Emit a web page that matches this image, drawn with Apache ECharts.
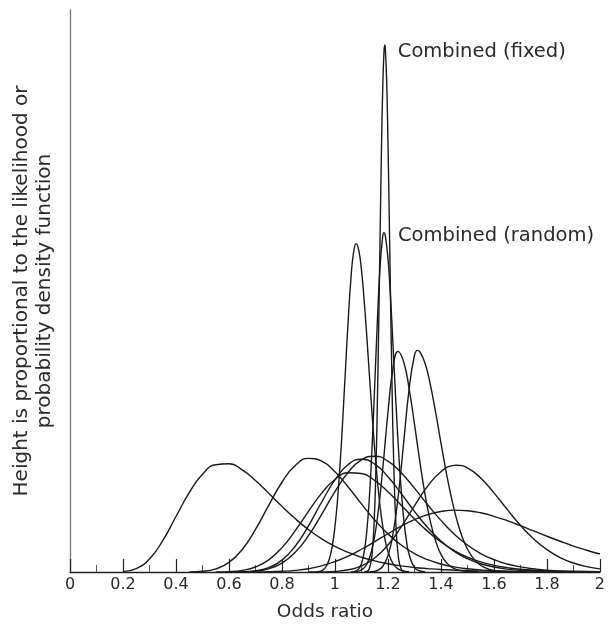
<!DOCTYPE html>
<html>
<head>
<meta charset="utf-8">
<script src="https://cdn.jsdelivr.net/npm/echarts@6/dist/echarts.min.js"></script>
<style>html,body{margin:0;padding:0;background:#fff;}#c{width:608px;height:627px;}</style>
</head>
<body>
<div id="c"></div>
<script>
// Odds-ratio axis ticks
const xTickMin = 0, xTickMax = 2, xTickStep = 0.2;
const xAxisTitle = 'Odds ratio';
const yAxisTitle = 'Height is proportional to the likelihood or\nprobability density function';
const labelFixed = 'Combined (fixed)';
const labelRandom = 'Combined (random)';

// Curves: [odds ratio, height]
const studyA = [[0.2,0.4],[0.25,3.4],[0.3,13.1],[0.35,31.4],[0.4,55.6],[0.45,79.6],[0.5,97.9],[0.55,107.5],[0.6,108.4],[0.65,102.3],[0.7,91.7],[0.75,79],[0.8,65.8],[0.85,53.5],[0.9,42.5],[0.95,33.2],[1,25.6],[1.05,19.6],[1.1,14.8],[1.15,11.1],[1.2,8.3],[1.25,6.1],[1.3,4.5],[1.35,3.4],[1.4,2.5],[1.5,1.3],[1.6,0.7],[1.7,0.3]];
const studyB = [[0.45,0.1],[0.5,0.7],[0.55,3.1],[0.6,9.6],[0.65,22.6],[0.7,42.6],[0.75,66.8],[0.8,89.9],[0.85,106.7],[0.9,113.8],[0.95,111],[1,100.4],[1.05,85.1],[1.1,68.2],[1.15,52.1],[1.2,38.2],[1.25,27],[1.3,18.5],[1.35,12.3],[1.4,8],[1.45,5.1],[1.5,3.2],[1.55,2],[1.6,1.2],[1.7,0.4],[1.8,0.1]];
const studyC = [[0.6,0],[0.65,0.2],[0.7,1.2],[0.75,4.3],[0.8,11.9],[0.85,25.8],[0.9,46.2],[0.95,70.1],[1,92.3],[1.05,107.7],[1.1,113],[1.15,108.1],[1.2,95.5],[1.25,78.6],[1.3,60.8],[1.35,44.5],[1.4,31],[1.45,20.7],[1.5,13.3],[1.55,8.3],[1.6,5],[1.65,2.9],[1.7,1.7],[1.8,0.5],[1.9,0.1]];
const studyD = [[0.65,0.2],[0.7,0.9],[0.75,3.2],[0.8,8.9],[0.85,19.7],[0.9,36.4],[0.95,57.8],[1,80.4],[1.05,99.9],[1.1,112.3],[1.15,116],[1.2,111],[1.25,99.5],[1.3,84],[1.35,67.4],[1.4,51.7],[1.45,38],[1.5,27],[1.55,18.5],[1.6,12.4],[1.65,8],[1.7,5.1],[1.75,3.2],[1.8,1.9],[1.9,0.7],[2,0.2]];
const studyE = [[0.55,0.1],[0.6,0.4],[0.65,1.6],[0.7,5],[0.75,12.2],[0.8,24.4],[0.85,41.4],[0.9,60.7],[0.95,79],[1,92.6],[1.05,99.4],[1.1,98.7],[1.15,91.7],[1.2,80.3],[1.25,66.9],[1.3,53.2],[1.35,40.7],[1.4,30],[1.45,21.5],[1.5,14.9],[1.55,10.1],[1.6,6.7],[1.65,4.4],[1.7,2.8],[1.8,1.1],[1.9,0.4],[2,0.1]];
const studyF = [[0.93,0.1],[0.94,0.5],[0.95,1.4],[0.96,3.2],[0.97,7],[0.98,14.1],[0.99,26.2],[1,45.6],[1.01,73.4],[1.02,110.5],[1.03,155.6],[1.04,204.4],[1.05,252.4],[1.06,292.8],[1.07,319.7],[1.08,329],[1.09,322.1],[1.1,302.6],[1.11,272.7],[1.12,236.7],[1.13,197.4],[1.14,158.7],[1.15,122.7],[1.16,92],[1.17,66.4],[1.18,46.4],[1.19,31.3],[1.2,20.6],[1.22,8],[1.24,2.8],[1.26,0.9],[1.28,0.2]];
const studyG = [[1.06,0],[1.08,0.4],[1.1,2.1],[1.12,7.8],[1.14,22.9],[1.16,53.8],[1.18,102.5],[1.2,159.8],[1.22,205.8],[1.238,221],[1.26,209.9],[1.28,183.5],[1.3,148.4],[1.32,111.4],[1.34,77.7],[1.36,50.7],[1.38,31],[1.4,17.7],[1.42,9.6],[1.44,4.9],[1.46,2.4],[1.5,0.5],[1.54,0]];
const studyH = [[1.12,0],[1.14,0.3],[1.16,1.5],[1.18,5.5],[1.2,16.3],[1.22,39.6],[1.24,78.9],[1.26,131.3],[1.28,183.5],[1.3,216.9],[1.311,222],[1.32,220.7],[1.34,209.1],[1.36,187.6],[1.38,159.8],[1.4,129.4],[1.42,99.9],[1.44,73.9],[1.46,52.2],[1.48,35.4],[1.5,23],[1.52,14.4],[1.54,8.7],[1.56,5.1],[1.58,2.9],[1.6,1.6],[1.65,0.3],[1.7,0]];
const studyI = [[0.9,0],[0.95,0.1],[1,0.6],[1.05,2.2],[1.1,6.1],[1.15,14],[1.2,27.1],[1.25,45.2],[1.3,66.2],[1.35,86],[1.4,100.5],[1.45,106.8],[1.46,107],[1.5,104.3],[1.55,94.1],[1.6,79.3],[1.65,62.7],[1.7,46.8],[1.75,33.1],[1.8,22.4],[1.85,14.4],[1.9,9],[1.95,5.4],[2,3.1]];
const studyJ = [[0.7,0],[0.75,0.2],[0.8,0.7],[0.85,1.6],[0.9,3.3],[0.95,6.2],[1,10.4],[1.05,15.9],[1.1,22.8],[1.15,30.4],[1.2,38.3],[1.25,45.9],[1.3,52.4],[1.35,57.4],[1.4,60.6],[1.45,62],[1.5,61.4],[1.55,59.3],[1.6,55.8],[1.65,51.4],[1.7,46.4],[1.75,41.1],[1.8,35.8],[1.85,30.8],[1.9,26],[1.95,21.8],[2,18]];
const combinedRandom = [[1.07,0.2],[1.08,1.1],[1.09,3.2],[1.1,8.4],[1.11,19.6],[1.12,40.5],[1.13,75],[1.14,124.6],[1.15,186.6],[1.16,250.6],[1.17,304.8],[1.18,335.8],[1.185,340],[1.19,337],[1.2,314.5],[1.21,273.9],[1.22,222.6],[1.23,170.2],[1.24,121.9],[1.25,82.1],[1.26,52],[1.27,31],[1.28,17.4],[1.3,4.7],[1.32,1],[1.34,0.2]];
const combinedFixed = [[1.11,0],[1.12,0.5],[1.13,3.5],[1.14,17.4],[1.15,63.9],[1.155,107.7],[1.16,168.5],[1.165,245.2],[1.17,330.7],[1.175,414.5],[1.18,481.4],[1.185,521.1],[1.188,528],[1.19,524.9],[1.195,493.1],[1.2,432.3],[1.205,353.2],[1.21,270.2],[1.215,192.9],[1.22,128.1],[1.23,47.5],[1.24,13.5],[1.25,3],[1.26,0.5],[1.27,0]];

const studies = [studyA, studyB, studyC, studyD, studyE, studyF, studyG, studyH, studyI, studyJ];

const FONT = 'DejaVu Sans';
const lineColor = '#1a1a1a';
function curve(data, extra) {
  return Object.assign({
    type: 'line', data: data, showSymbol: false, smooth: 0.5,
    lineStyle: { color: lineColor, width: 1.4 }, silent: true
  }, extra || {});
}
function peakLabel(text, offset) {
  return {
    symbol: 'circle', symbolSize: 0, silent: true,
    data: [{ type: 'max' }],
    label: { show: true, position: 'right', distance: 0, offset: offset, formatter: text,
      fontFamily: FONT, fontSize: 19.5, color: '#2a2a2a' }
  };
}

const series = studies.map(d => curve(d));
series.push(curve(combinedRandom, { markPoint: peakLabel(labelRandom, [14, 3]) }));
series.push(curve(combinedFixed, { markPoint: peakLabel(labelFixed, [13, 7]) }));

const chart = echarts.init(document.getElementById('c'), null, { renderer: 'canvas' });
chart.setOption({
  animation: false,
  backgroundColor: '#ffffff',
  grid: { left: 70, right: 5, top: 10, bottom: 54, containLabel: false },
  xAxis: {
    type: 'value', min: xTickMin, max: xTickMax, interval: xTickStep,
    name: xAxisTitle, nameLocation: 'middle', nameGap: 31,
    nameTextStyle: { fontFamily: FONT, fontSize: 18.5, color: '#2a2a2a', padding: [0, 20, 0, 0] },
    axisLine: { show: true, onZero: false, lineStyle: { color: '#222', width: 1.3 } },
    axisTick: { show: true, inside: true, length: 13, lineStyle: { color: '#222', width: 1.2 } },
    minorTick: { show: true, splitNumber: 2, length: 7, lineStyle: { color: '#555', width: 1 } },
    axisLabel: { fontFamily: FONT, fontSize: 16, color: '#2a2a2a', margin: 5 },
    splitLine: { show: false }, minorSplitLine: { show: false }
  },
  yAxis: {
    type: 'value', min: 0, max: 563,
    name: yAxisTitle, nameLocation: 'middle', nameGap: 14,
    nameTextStyle: { fontFamily: FONT, fontSize: 20, color: '#2a2a2a', lineHeight: 23 },
    axisLine: { show: true, onZero: false, lineStyle: { color: '#777', width: 1.3 } },
    axisTick: { show: false }, axisLabel: { show: false }, splitLine: { show: false }
  },
  series: series
});
</script>
</body>
</html>
